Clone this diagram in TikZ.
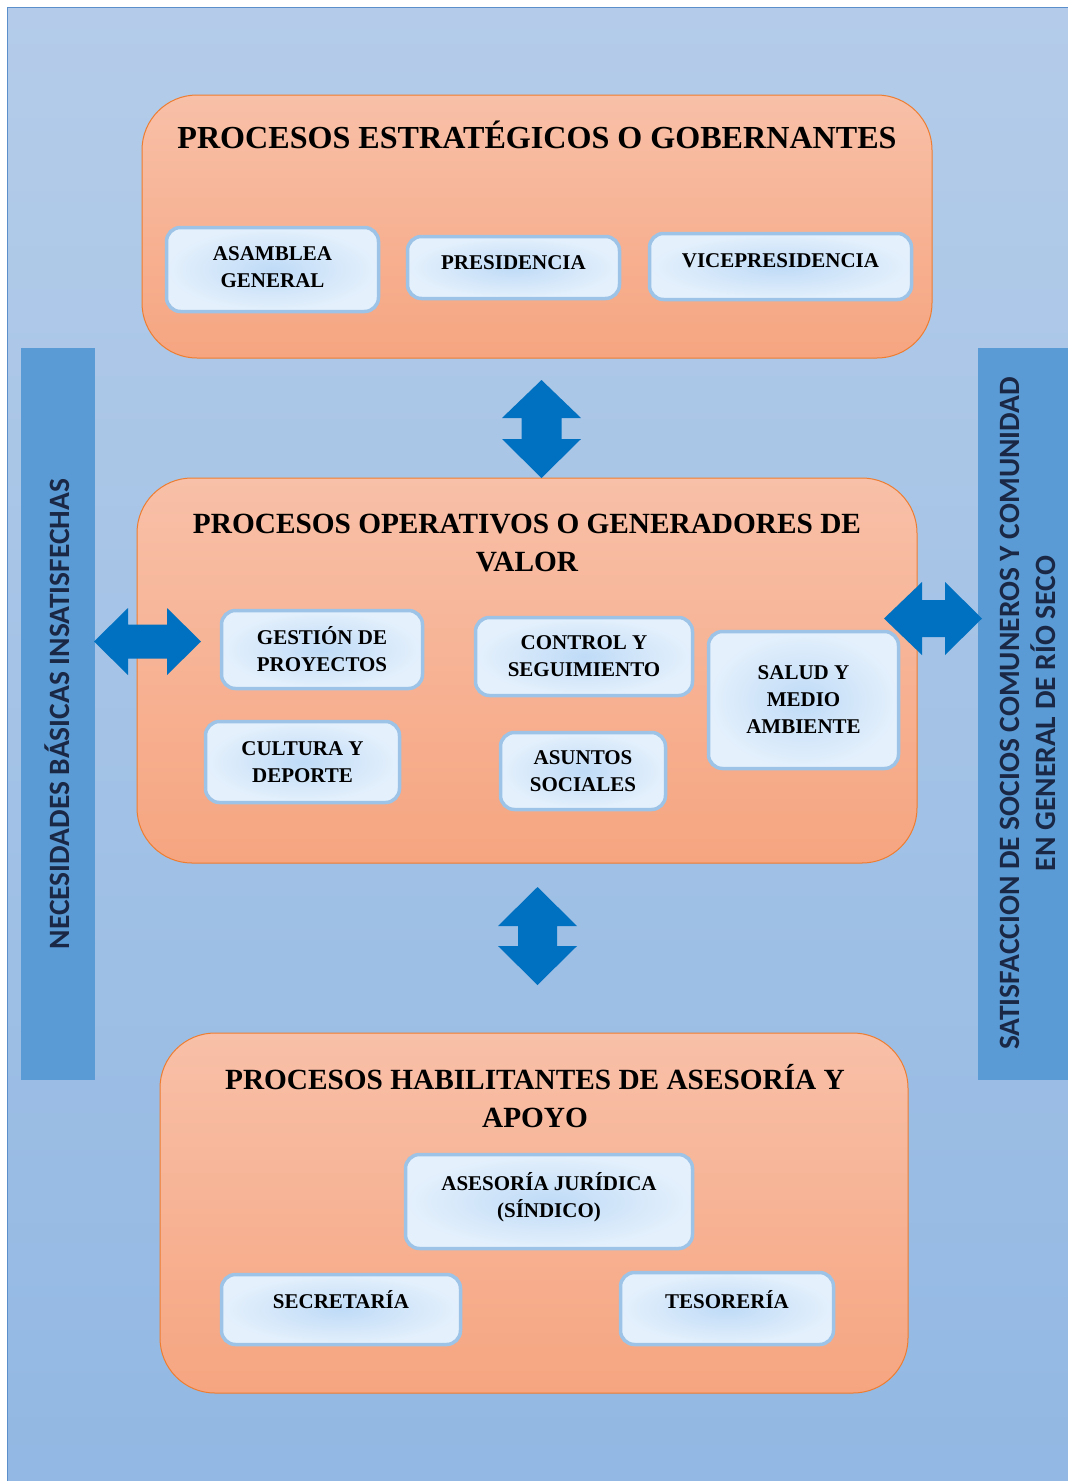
\documentclass[tikz,border=0pt]{standalone}
\usepackage{fontspec}
\setmainfont{Liberation Serif}
\newfontfamily\sidefont{Carlito}
\usetikzlibrary{positioning}

\definecolor{bgtop}{HTML}{B4CCE9}
\definecolor{bgbot}{HTML}{92B8E3}
\definecolor{bgline}{HTML}{5B8FCC}
\definecolor{sidebar}{HTML}{5B9BD5}
\definecolor{sidetext}{HTML}{1B2845}
\definecolor{proctop}{HTML}{F8C0A8}
\definecolor{procbot}{HTML}{F6A580}
\definecolor{procline}{HTML}{ED7D31}
\definecolor{unitin}{HTML}{BFDBF7}
\definecolor{unitout}{HTML}{E4F0FC}
\definecolor{unitline}{HTML}{9DC3E6}
\definecolor{arrowblue}{HTML}{0070C0}

\tikzset{
  procbox/.style={rounded corners=55pt, top color=proctop, bottom color=procbot,
    draw=procline, line width=1pt, inner sep=0pt},
  proctitle/.style={align=center, font=\fontsize{29.3}{38}\selectfont\bfseries, inner sep=0pt},
  unitbox/.style={rounded corners=14pt, inner color=unitin, outer color=unitout,
    draw=unitline, line width=3.5pt, align=center, inner sep=0pt,
    font=\fontsize{21}{27}\selectfont\bfseries},
  sidebox/.style={fill=sidebar, inner sep=0pt},
  sidelabel/.style={rotate=90, align=center, text=sidetext, inner sep=0pt,
    font=\sidefont\fontsize{29.5}{36}\selectfont\bfseries},
  bigarrow/.style={fill=arrowblue}
}

\begin{document}
\begin{tikzpicture}[x=1pt, y=-1pt]
  \useasboundingbox (0,0) rectangle (1068,1481);
  % background
  \fill[top color=bgtop, bottom color=bgbot] (7,7) rectangle (1068,1481);
  \draw[bgline, line width=0.8pt] (7,1481) -- (7,7) -- (1068,7);

  % side bars
  \node[sidebox, minimum width=74pt, minimum height=732pt] (need) at (58,714) {};
  \node[sidebox, minimum width=90pt, minimum height=732pt] (satis) at (1023,714) {};
  \node[sidelabel] (needtxt) at (57,714) {NECESIDADES BÁSICAS INSATISFECHAS};
  \node[sidelabel] (satistxt) at (1028,713.5) {SATISFACCION DE SOCIOS COMUNEROS Y COMUNIDAD\\EN GENERAL DE RÍO SECO};

  % strategic processes
  \node[procbox, minimum width=790pt, minimum height=263pt] (strat) at (537,226.5) {};
  \node[proctitle, font=\fontsize{32.1}{38}\selectfont\bfseries] (strattitle) at (537,135) {PROCESOS ESTRATÉGICOS O GOBERNANTES};
  \node[unitbox, minimum width=212pt, minimum height=84pt, text depth=4pt] (asamblea) at (272.5,269.5) {ASAMBLEA\\GENERAL};
  \node[unitbox, minimum width=212pt, minimum height=62pt, text depth=10pt] (presid) at (513.5,267.5) {PRESIDENCIA};
  \node[unitbox, minimum width=262pt, minimum height=66pt, text depth=12pt] (vicepres) at (780.5,266.5) {VICEPRESIDENCIA};

  % operative processes
  \node[procbox, minimum width=780pt, minimum height=385pt] (oper) at (527,670.5) {};
  \node[proctitle] (opertitle) at (527,543) {PROCESOS OPERATIVOS O GENERADORES DE\\VALOR};
  \node[unitbox, minimum width=201pt, minimum height=78pt] (gestion) at (322,649.5) {GESTIÓN DE\\PROYECTOS};
  \node[unitbox, minimum width=217pt, minimum height=78pt] (control) at (584,656.5) {CONTROL Y\\SEGUIMIENTO};
  \node[unitbox, minimum width=190pt, minimum height=137pt] (salud) at (803.5,700) {SALUD Y\\MEDIO\\AMBIENTE};
  \node[unitbox, minimum width=194pt, minimum height=81pt] (cultura) at (302.5,762) {CULTURA Y\\DEPORTE};
  \node[unitbox, minimum width=165pt, minimum height=77pt] (asuntos) at (583,771) {ASUNTOS\\SOCIALES};

  % support processes
  \node[procbox, minimum width=748pt, minimum height=360pt] (apoyo) at (534,1213) {};
  \node[proctitle] (apoyotitle) at (535,1096) {PROCESOS HABILITANTES DE ASESORÍA Y\\APOYO};
  \node[unitbox, minimum width=287pt, minimum height=94pt, text depth=14pt] (juridica) at (549,1201.5) {ASESORÍA JURÍDICA\\(SÍNDICO)};
  \node[unitbox, minimum width=239pt, minimum height=70pt, text depth=20pt] (secret) at (341,1309.5) {SECRETARÍA};
  \node[unitbox, minimum width=213pt, minimum height=72pt, text depth=18pt] (tesor) at (727,1308.5) {TESORERÍA};

  % block arrows
  \fill[bigarrow] (541.5,380) -- (581,418) -- (561.5,418) -- (561.5,439) -- (581,439)
    -- (541.5,478) -- (502,439) -- (521.5,439) -- (521.5,418) -- (502,418) -- cycle;
  \fill[bigarrow] (537.5,887) -- (577,926) -- (557,926) -- (557,946) -- (577,946)
    -- (537.5,985) -- (498,946) -- (518,946) -- (518,926) -- (498,926) -- cycle;
  \fill[bigarrow] (94,641.5) -- (128,608) -- (128,624.5) -- (167,624.5) -- (167,608)
    -- (201,641.5) -- (167,675) -- (167,658.5) -- (128,658.5) -- (128,675) -- cycle;
  \fill[bigarrow] (884,618.5) -- (922,582) -- (922,600) -- (945,600) -- (945,582)
    -- (982,618.5) -- (945,655) -- (945,637) -- (922,637) -- (922,655) -- cycle;
\end{tikzpicture}
\end{document}
